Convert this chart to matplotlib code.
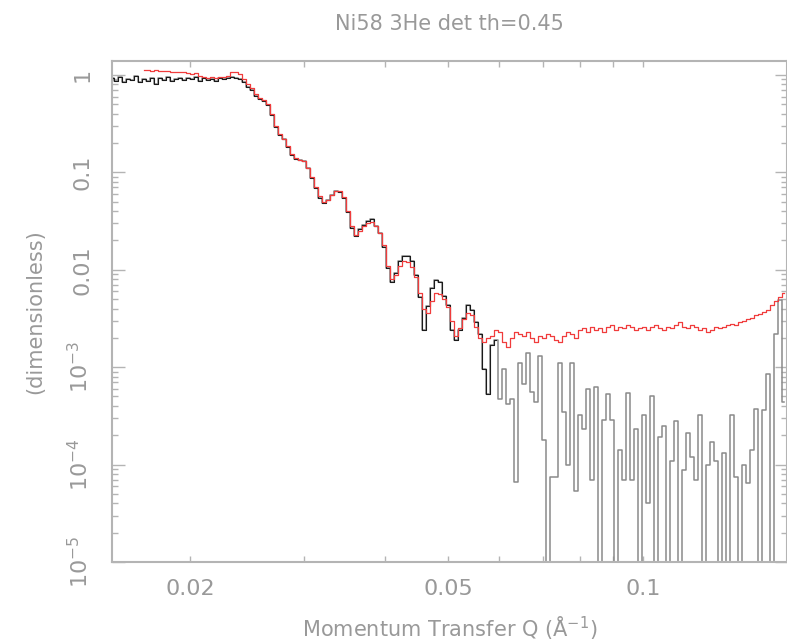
import numpy as np
import matplotlib
matplotlib.use("Agg")
import matplotlib.pyplot as plt
from matplotlib.ticker import FixedLocator, FixedFormatter, NullFormatter

# Q grid (A^-1), shared by both curves
q = [0.01516, 0.01538, 0.01560, 0.01582, 0.01605, 0.01628, 0.01651, 0.01675, 0.01699, 0.01723,
     0.01747, 0.01772, 0.01797, 0.01823, 0.01849, 0.01876, 0.01903, 0.01930, 0.01957, 0.01985,
     0.02014, 0.02043, 0.02072, 0.02102, 0.02132, 0.02162, 0.02193, 0.02225, 0.02256, 0.02289,
     0.02322, 0.02355, 0.02389, 0.02423, 0.02458, 0.02493, 0.02529, 0.02565, 0.02602, 0.02639,
     0.02677, 0.02715, 0.02754, 0.02794, 0.02834, 0.02874, 0.02915, 0.02957, 0.02999, 0.03042,
     0.03086, 0.03130, 0.03175, 0.03220, 0.03267, 0.03313, 0.03361, 0.03409, 0.03458, 0.03507,
     0.03557, 0.03608, 0.03660, 0.03712, 0.03765, 0.03819, 0.03874, 0.03929, 0.03985, 0.04042,
     0.04100, 0.04159, 0.04218, 0.04279, 0.04340, 0.04402, 0.04465, 0.04529, 0.04594, 0.04659,
     0.04726, 0.04794, 0.04862, 0.04932, 0.05002, 0.05074, 0.05147, 0.05220, 0.05295, 0.05371,
     0.05447, 0.05525, 0.05604, 0.05684, 0.05766, 0.05848, 0.05932, 0.06017, 0.06103, 0.06190,
     0.06280, 0.06370, 0.06461, 0.06553, 0.06647, 0.06743, 0.06839, 0.06937, 0.07036, 0.07137,
     0.07239, 0.07343, 0.07448, 0.07554, 0.07663, 0.07772, 0.07883, 0.07996, 0.08111, 0.08227,
     0.08344, 0.08463, 0.08585, 0.08707, 0.08832, 0.08958, 0.09087, 0.09217, 0.09348, 0.09482,
     0.09619, 0.09757, 0.09896, 0.1004, 0.1018, 0.1033, 0.1048, 0.1063, 0.1078, 0.1093,
     0.1109, 0.1125, 0.1141, 0.1157, 0.1174, 0.1191, 0.1208, 0.1225, 0.1243, 0.1260,
     0.1278, 0.1296, 0.1315, 0.1334, 0.1353, 0.1372, 0.1392, 0.1412, 0.1432, 0.1452,
     0.1473, 0.1494, 0.1516, 0.1537, 0.1559, 0.1582, 0.1604, 0.1627, 0.1651]

# measured reflectivity (black / grey)
r_data = [0.93, 0.86, 0.95, 0.84, 0.91, 0.88, 0.97, 0.85, 0.90, 0.87,
          0.93, 0.80, 0.92, 0.89, 0.95, 0.86, 0.91, 0.94, 0.88, 0.92,
          0.90, 0.96, 0.87, 0.93, 0.89, 0.91, 0.86, 0.94, 0.90, 0.92,
          0.95, 0.93, 0.90, 0.85, 0.75, 0.70, 0.61, 0.57, 0.54, 0.49,
          0.39, 0.29, 0.24, 0.22, 0.18, 0.15, 0.137, 0.134, 0.13, 0.11,
          0.087, 0.069, 0.055, 0.048, 0.052, 0.059, 0.064, 0.063, 0.055, 0.039,
          0.027, 0.022, 0.026, 0.029, 0.032, 0.033, 0.028, 0.024, 0.017, 0.0104,
          0.0075, 0.0092, 0.0122, 0.0137, 0.014, 0.0122, 0.0088, 0.0052, 0.0024, 0.0042,
          0.0065, 0.0079, 0.0075, 0.0054, 0.0043, 0.0024, 0.0019, 0.0024, 0.0032, 0.0043,
          0.0039, 0.0029, 0.0022, 0.00095, 0.00053, 0.0017, 0.0019, 0.00047, 0.00095, 0.00042,
          0.00047, 6.6e-5, 0.0011, 0.00067, 0.0014, 0.00055, 0.00044, 0.0013, 0.00018, 0,
          7.4e-5, 7.4e-5, 0.0011, 0.00035, 0.0001, 0.0011, 5.4e-5, 0.00032, 0.00023, 0.00059,
          6.9e-5, 0.00062, 0, 0.00029, 0.00053, 0.00029, 0, 0.00014, 6.9e-5, 0.00054,
          6.9e-5, 0.00023, 0, 0.00032, 4.0e-5, 0.0005, 0, 0.00019, 0.00025, 0,
          0.00011, 0.00028, 0, 8.9e-5, 0.00021, 0.00012, 6.9e-5, 0.00032, 0, 0.0001,
          0.00017, 0.00011, 0, 0.00013, 0, 0.00032, 7.4e-5, 0, 0.0001, 6.4e-5,
          0.00014, 0.00037, 0, 0.00036, 0.00085, 0, 0.0022, 0.0049, 0.00044]

# fit / model curve (red), starts at q[8]
r_fit = [1.12, 1.13,
         1.11, 1.12, 1.10, 1.09, 1.11, 1.08, 1.07, 1.08, 1.06, 1.05,
         1.03, 1.04, 0.98, 0.95, 0.93, 0.95, 0.94, 0.96, 0.95, 0.97,
         1.06, 1.08, 1.02, 0.90, 0.80, 0.73, 0.63, 0.58, 0.55, 0.50,
         0.40, 0.30, 0.25, 0.22, 0.185, 0.155, 0.14, 0.135, 0.13, 0.112,
         0.09, 0.071, 0.057, 0.050, 0.052, 0.058, 0.064, 0.064, 0.056, 0.040,
         0.028, 0.023, 0.025, 0.028, 0.030, 0.031, 0.028, 0.024, 0.018, 0.011,
         0.0080, 0.0088, 0.011, 0.0122, 0.0120, 0.0108, 0.0085, 0.0058, 0.0040, 0.0036,
         0.0048, 0.0058, 0.0056, 0.0050, 0.0041, 0.0030, 0.0021, 0.0025, 0.0031, 0.0036,
         0.0034, 0.0026, 0.0020, 0.0018, 0.0020, 0.0021, 0.0024, 0.0023, 0.0018, 0.0016,
         0.0020, 0.0023, 0.0022, 0.0021, 0.0023, 0.0020, 0.0018, 0.0021, 0.0020, 0.0022,
         0.0021, 0.0019, 0.0018, 0.0021, 0.0023, 0.0022, 0.0020, 0.0024, 0.0025, 0.0023,
         0.0026, 0.0024, 0.0025, 0.0023, 0.0026, 0.0027, 0.0024, 0.0026, 0.0025, 0.0027,
         0.0026, 0.0024, 0.0025, 0.0026, 0.0024, 0.0026, 0.0027, 0.0025, 0.0024, 0.0026,
         0.0025, 0.0027, 0.0029, 0.0026, 0.0025, 0.0027, 0.0026, 0.0024, 0.0025, 0.0023,
         0.0024, 0.0026, 0.0025, 0.0026, 0.0027, 0.0028, 0.0027, 0.0029, 0.0030, 0.0031,
         0.0032, 0.0034, 0.0035, 0.0037, 0.0039, 0.0043, 0.0048, 0.0052, 0.0058]

x_major = [0.02, 0.05, 0.1]
x_major_labels = ["0.02", "0.05", "0.1"]
x_minor = [0.03, 0.04, 0.06, 0.07, 0.08, 0.09]
y_major = [1e-5, 1e-4, 1e-3, 0.01, 0.1, 1]
y_major_labels = [r"$\mathregular{10^{-5}}$", r"$\mathregular{10^{-4}}$",
                  r"$\mathregular{10^{-3}}$", "0.01", "0.1", "1"]

txt = "#999999"
ax_col = "#b4b4b4"
plt.rcParams['font.family'] = ['DejaVu Sans']

fig = plt.figure(figsize=(7.87, 6.43), dpi=100)
ax = fig.add_axes([112/787, 1 - 562/643, 1 - 112/787, (562 - 61)/643])

q = np.array(q)
r_data = np.array(r_data, dtype=float)
ax.plot(q, r_data, drawstyle="steps-mid", color="#8a8a8a", lw=1.1)
ax.plot(q[:97], r_data[:97], drawstyle="steps-mid", color="#1a1a1a", lw=0.8)
ax.plot(q[8:], r_fit, drawstyle="steps-mid", color="#f03c3c", lw=0.9)

ax.set_xscale("log")
ax.set_yscale("log", nonpositive="clip")
ax.set_xlim(0.01516, 0.1668)
ax.set_ylim(1e-5, 1.39)

ax.xaxis.set_major_locator(FixedLocator(x_major))
ax.xaxis.set_major_formatter(FixedFormatter(x_major_labels))
ax.xaxis.set_minor_locator(FixedLocator(x_minor))
ax.xaxis.set_minor_formatter(NullFormatter())
ax.yaxis.set_major_locator(FixedLocator(y_major))
ax.yaxis.set_major_formatter(FixedFormatter(y_major_labels))
minor_y = [m * 10.0**e for e in range(-5, 1) for m in range(2, 10)]
ax.yaxis.set_minor_locator(FixedLocator(minor_y))
ax.yaxis.set_minor_formatter(NullFormatter())

ax.tick_params(axis="x", which="both", direction="in", length=4.5, width=1,
               color=ax_col, top=True, labelsize=16, labelcolor=txt, pad=12)
ax.tick_params(axis="y", which="major", direction="in", length=9, width=1,
               color=ax_col, right=True, labelsize=16, labelcolor=txt, pad=14)
ax.tick_params(axis="y", which="minor", direction="in", length=4.5, width=1,
               color=ax_col, right=True)
for lab in ax.get_yticklabels():
    lab.set_rotation(90)
    lab.set_va("center")

for s in ax.spines.values():
    s.set_color(ax_col)
    s.set_linewidth(1.5)

ax.set_xlabel(r"Momentum Transfer Q ($\mathregular{\AA^{-1}}$)", fontsize=15, color=txt, labelpad=11)
ax.set_ylabel("(dimensionless)", fontsize=15, color=txt, labelpad=16)
ax.set_title("Ni58 3He det th=0.45", fontsize=15, color=txt, pad=22)

fig.savefig("out.png", dpi=100)
